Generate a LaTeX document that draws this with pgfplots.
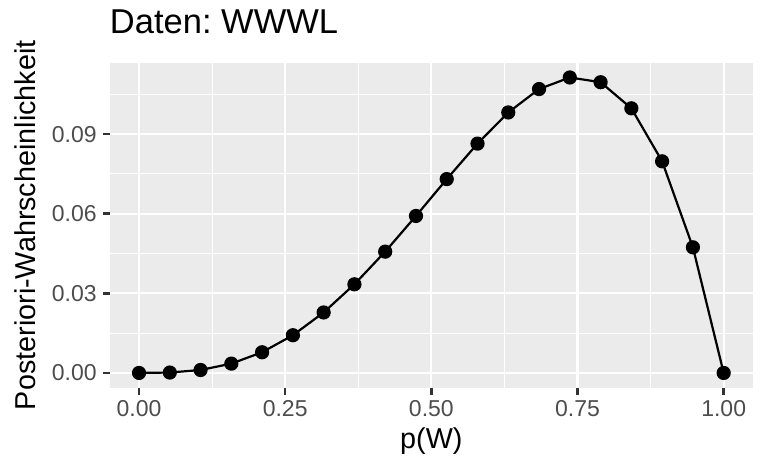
\documentclass[border=0pt]{standalone}
\usepackage{fontspec}
\setmainfont{Liberation Sans}
\usepackage{pgfplots}
\pgfplotsset{compat=1.18}
\definecolor{panelbg}{HTML}{EBEBEB}
\definecolor{tickcol}{HTML}{333333}
\definecolor{ticklab}{HTML}{4D4D4D}
\begin{document}
\frenchspacing
\begin{tikzpicture}
\useasboundingbox (-109.8pt,-86.3pt) rectangle (658.2pt,387.7pt);
\begin{axis}[
  at={(0,0)}, anchor=south west,
  scale only axis,
  width=643.1pt, height=325pt,
  xmin=-0.05, xmax=1.05,
  ymin=-0.005567, ymax=0.1169,
  axis background/.style={fill=panelbg},
  axis line style={draw=none},
  xtick={0,0.25,0.5,0.75,1},
  xticklabels={0.00,0.25,0.50,0.75,1.00},
  ytick={0,0.03,0.06,0.09},
  yticklabels={0.00,0.03,0.06,0.09},
  minor xtick={0.125,0.375,0.625,0.875},
  minor ytick={0.015,0.045,0.075,0.105},
  grid=both,
  major grid style={white, line width=2.2pt},
  minor grid style={white, line width=1.1pt},
  tick align=outside,
  major tick length=7pt,
  minor tick length=0pt,
  every tick/.style={draw=tickcol, line width=2.5pt},
  tick pos=left,
  /pgf/number format/assume math mode=true,
  ticklabel style={font=\fontsize{23}{27}\selectfont, text=ticklab},
  xticklabel style={inner sep=0pt, anchor=north, yshift=-6pt},
  yticklabel style={inner sep=0pt, anchor=east, xshift=-6pt},
  xlabel={p(W)},
  ylabel={Posteriori-Wahrscheinlichkeit},
  label style={font=\fontsize{28.75}{32}\selectfont, text=black},
  xlabel style={at={(axis description cs:0.5,0)}, anchor=base, yshift=-60.3pt, inner sep=0pt},
  ylabel style={at={(axis description cs:-0.11507,0.5)}, anchor=base, inner sep=0pt},
  title={Daten: WWWL},
  title style={at={(axis description cs:0,1)}, anchor=base west, yshift=22.7pt, xshift=0pt, inner sep=0pt, font=\fontsize{34.5}{38}\selectfont},
  clip=false,
]
\addplot[black, line width=2.2pt, mark=*, mark size=6pt, mark options={fill=black}] coordinates {
(0.000000,0.000000)
(0.052632,0.000146)
(0.105263,0.001104)
(0.157895,0.003506)
(0.210526,0.007790)
(0.263158,0.014201)
(0.315789,0.022786)
(0.368421,0.033400)
(0.421053,0.045702)
(0.473684,0.059156)
(0.526316,0.073032)
(0.578947,0.086405)
(0.631579,0.098155)
(0.684211,0.106967)
(0.736842,0.111333)
(0.789474,0.109548)
(0.842105,0.099713)
(0.894737,0.079734)
(0.947368,0.047325)
(1.000000,0.000000)
};
\draw[tickcol, line width=2.5pt] (axis cs:0,-0.005567) -- ([yshift=-7pt]axis cs:0,-0.005567);
\draw[tickcol, line width=2.5pt] (axis cs:0.25,-0.005567) -- ([yshift=-7pt]axis cs:0.25,-0.005567);
\draw[tickcol, line width=2.5pt] (axis cs:0.5,-0.005567) -- ([yshift=-7pt]axis cs:0.5,-0.005567);
\draw[tickcol, line width=2.5pt] (axis cs:0.75,-0.005567) -- ([yshift=-7pt]axis cs:0.75,-0.005567);
\draw[tickcol, line width=2.5pt] (axis cs:1,-0.005567) -- ([yshift=-7pt]axis cs:1,-0.005567);
\draw[tickcol, line width=2.5pt] (axis cs:-0.05,0) -- ([xshift=-7pt]axis cs:-0.05,0);
\draw[tickcol, line width=2.5pt] (axis cs:-0.05,0.03) -- ([xshift=-7pt]axis cs:-0.05,0.03);
\draw[tickcol, line width=2.5pt] (axis cs:-0.05,0.06) -- ([xshift=-7pt]axis cs:-0.05,0.06);
\draw[tickcol, line width=2.5pt] (axis cs:-0.05,0.09) -- ([xshift=-7pt]axis cs:-0.05,0.09);
\end{axis}
\end{tikzpicture}
\end{document}
